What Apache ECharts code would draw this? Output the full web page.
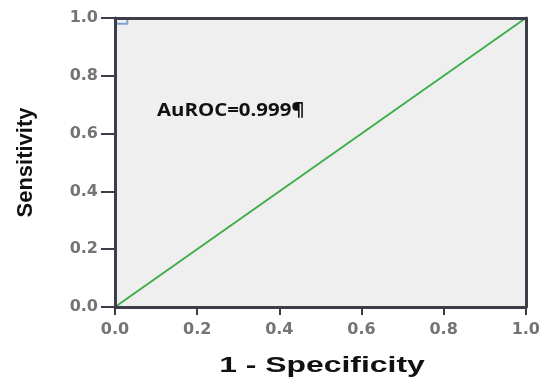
<!DOCTYPE html>
<html>
<head>
<meta charset="utf-8">
<script src="https://cdn.jsdelivr.net/npm/echarts@6/dist/echarts.min.js"></script>
<style>
  html, body { margin: 0; padding: 0; background: #fff; }
  #roc { width: 543px; height: 379px; }
</style>
</head>
<body>
<div id="roc"></div>
<script>
// ROC curve points (1 - specificity, sensitivity)
var rocX = [0, 0, 0.03, 0.03, 1];
var rocY = [0, 0.98, 0.98, 1, 1];
// reference diagonal
var refX = [0, 1];
var refY = [0, 1];
var tickLabels = ['0.0', '0.2', '0.4', '0.6', '0.8', '1.0'];
var aucText = 'AuROC=0.999¶';
var xTitle = '1 - Specificity';
var yTitle = 'Sensitivity';

var dom = document.getElementById('roc');
var myChart = echarts.init(dom);

function pairs(xs, ys) {
    return xs.map(function (x, i) { return [x, ys[i]]; });
}

var axisColor = '#3d3d4a';

// the picture is stretched sideways, so labels use a wide font
var labelStyle = {
    fontFamily: 'DejaVu Sans',
    fontWeight: 'bold',
    fontSize: 16,
    color: '#747474',
    formatter: function (v) { return tickLabels[Math.round(v * 5)]; }
};

function frameAxis(pos) {
    // plain top / right border drawn above the curve
    return {
        type: 'value', min: 0, max: 1, position: pos, z: 5,
        axisLine: { show: true, onZero: false, lineStyle: { color: axisColor, width: 3 } },
        axisTick: { show: false }, axisLabel: { show: false }, splitLine: { show: false }
    };
}

var option = {
    animation: false,
    grid: {
        left: 115,
        right: 16,
        top: 18,
        bottom: 72,
        show: true,
        backgroundColor: '#efefef',
        borderWidth: 0
    },
    xAxis: [{
        type: 'value', min: 0, max: 1, interval: 0.2, z: 5,
        axisLine: { show: true, onZero: false, lineStyle: { color: axisColor, width: 3 } },
        axisTick: { show: true, length: 8, lineStyle: { color: axisColor, width: 2 } },
        axisLabel: Object.assign({}, labelStyle, { margin: 15 }),
        splitLine: { show: false }
    }, frameAxis('top')],
    yAxis: [{
        type: 'value', min: 0, max: 1, interval: 0.2, z: 5,
        name: yTitle,
        nameLocation: 'middle',
        nameGap: 78,
        nameTextStyle: { fontFamily: 'Liberation Sans', fontWeight: 'bold', fontSize: 22, color: '#111' },
        axisLine: { show: true, onZero: false, lineStyle: { color: axisColor, width: 3 } },
        axisTick: { show: true, length: 14, lineStyle: { color: axisColor, width: 2 } },
        axisLabel: Object.assign({}, labelStyle, { margin: 17 }),
        splitLine: { show: false }
    }, frameAxis('right')],
    graphic: [{
        type: 'text',
        x: 157,
        y: 111,
        scaleX: 1.2,
        style: {
            text: aucText,
            font: 'bold 17px "Open Sans", sans-serif',
            fill: '#111',
            verticalAlign: 'middle'
        }
    }, {
        type: 'text',
        x: 322,
        y: 366,
        scaleX: 1.45,
        style: {
            text: xTitle,
            font: 'bold 22px "Liberation Sans", sans-serif',
            fill: '#111',
            align: 'center',
            verticalAlign: 'middle'
        }
    }],
    series: [
        {
            type: 'line',
            data: pairs(refX, refY),
            symbol: 'none',
            lineStyle: { color: '#3fae49', width: 2 }
        },
        {
            type: 'line',
            data: pairs(rocX, rocY),
            symbol: 'none',
            lineStyle: { color: '#7aa6d0', width: 2 }
        }
    ]
};

myChart.setOption(option, true);
</script>
</body>
</html>
